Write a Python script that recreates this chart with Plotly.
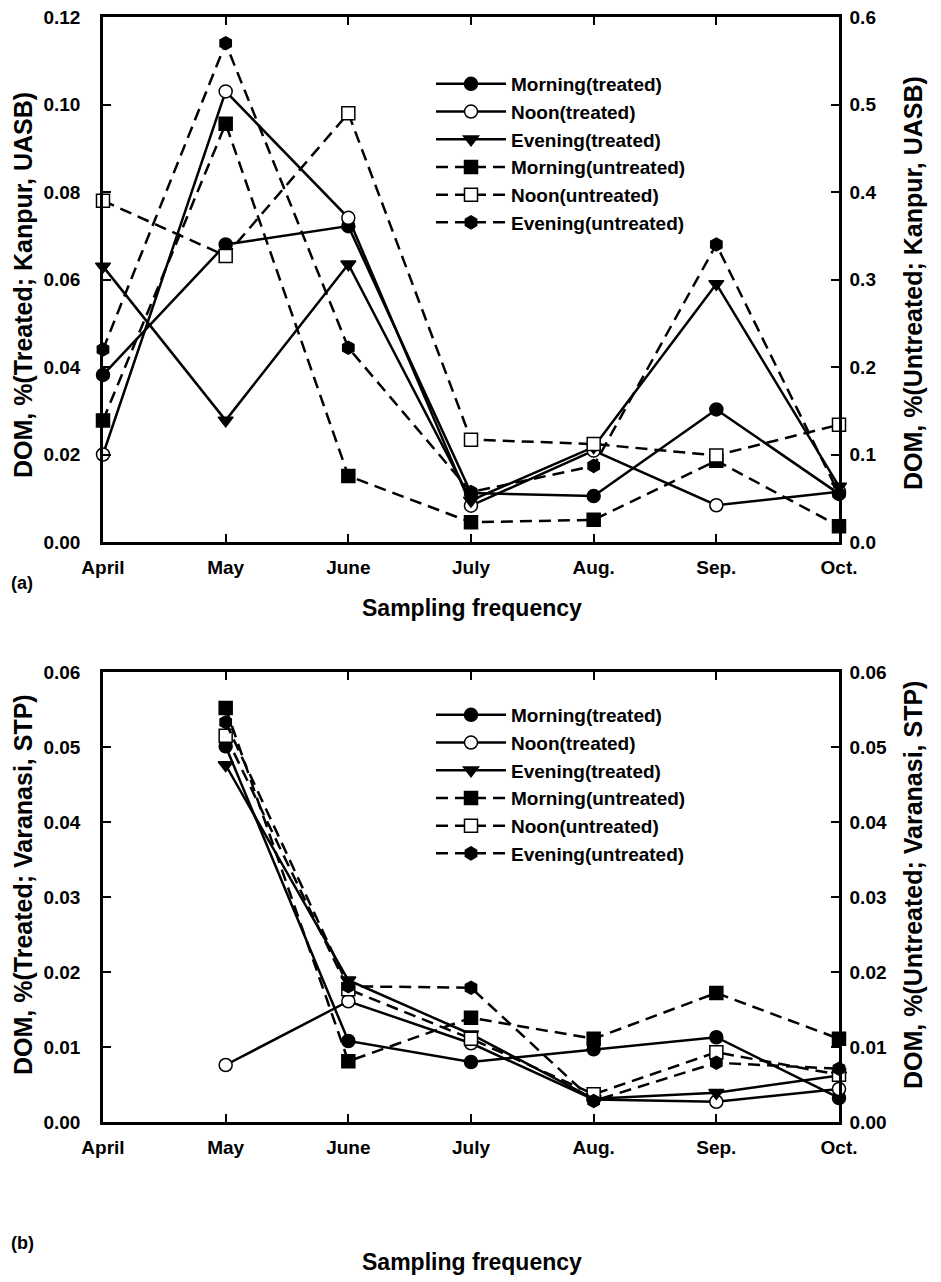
import plotly.graph_objects as go

months = ["April", "May", "June", "July", "Aug.", "Sep.", "Oct."]

# Panel (a): Kanpur, UASB  (treated -> left axis, untreated -> right axis)
a_morning_t = [0.0382, 0.0680, 0.0722, 0.0112, 0.0105, 0.0303, 0.0110]
a_noon_t = [0.0200, 0.1030, 0.0741, 0.0083, 0.0209, 0.0084, 0.0115]
a_evening_t = [0.0630, 0.0278, 0.0635, 0.0095, 0.0217, 0.0590, 0.0127]
a_morning_u = [0.139, 0.478, 0.0755, 0.0225, 0.0254, 0.093, 0.018]
a_noon_u = [0.390, 0.327, 0.490, 0.117, 0.112, 0.099, 0.134]
a_evening_u = [0.220, 0.570, 0.222, 0.057, 0.087, 0.340, 0.055]

# Panel (b): Varanasi, STP
b_morning_t = [None, 0.0501, 0.0108, 0.0080, 0.0097, 0.0113, 0.0032]
b_noon_t = [None, 0.0076, 0.0161, 0.0105, 0.0030, 0.0027, 0.0044]
b_evening_t = [None, 0.0476, 0.0189, 0.0117, 0.0031, 0.0039, 0.0062]
b_morning_u = [None, 0.0552, 0.0081, 0.0139, 0.0111, 0.0172, 0.0111]
b_noon_u = [None, 0.0515, 0.0177, 0.0111, 0.0037, 0.0093, 0.0063]
b_evening_u = [None, 0.0533, 0.0181, 0.0179, 0.0028, 0.0079, 0.0071]

names = ["Morning(treated)", "Noon(treated)", "Evening(treated)",
         "Morning(untreated)", "Noon(untreated)", "Evening(untreated)"]

a_ticks_left = [0.00, 0.02, 0.04, 0.06, 0.08, 0.10, 0.12]
a_ticks_right = [0.0, 0.1, 0.2, 0.3, 0.4, 0.5, 0.6]
b_ticks = [0.00, 0.01, 0.02, 0.03, 0.04, 0.05, 0.06]

xs = list(range(len(months)))

DASH = "12px,7px"
styles = [
    dict(symbol="circle", fill="black", dash="solid"),
    dict(symbol="circle", fill="white", dash="solid"),
    dict(symbol="triangle-down", fill="black", dash="solid"),
    dict(symbol="square", fill="black", dash=DASH),
    dict(symbol="square", fill="white", dash=DASH),
    dict(symbol="hexagon", fill="black", dash=DASH),
]

# page has an 8px body margin; figure sized to fit the 941x1282 window
OFF = 8
W, H = 941 - OFF, 1282 - OFF
FONT = "Liberation Sans, Arial, sans-serif"

def px(p):
    return (p - OFF) / W

def py(p):
    return 1 - (p - OFF) / H

fig = go.Figure()

a_series = [a_morning_t, a_noon_t, a_evening_t, a_morning_u, a_noon_u, a_evening_u]
b_series = [b_morning_t, b_noon_t, b_evening_t, b_morning_u, b_noon_u, b_evening_u]

def add(series, xa, ya_t, ya_u, leg):
    for i, (nm, ys, st) in enumerate(zip(names, series, styles)):
        fig.add_trace(go.Scatter(
            x=xs, y=ys, name=nm, mode="lines+markers",
            xaxis=xa, yaxis=ya_t if i < 3 else ya_u,
            line=dict(color="black", width=2.5, dash=st["dash"]),
            marker=dict(symbol=st["symbol"], size=13, color=st["fill"],
                        line=dict(color="black", width=1.5)),
            legend=leg, cliponaxis=False,
        ))

add(a_series, "x", "y", "y2", "legend")
add(b_series, "x2", "y3", "y4", "legend2")

x0, x1 = px(103), px(839)
a_dom = [py(542), py(17)]
b_dom = [py(1122), py(672)]

tickfont_y = dict(family=FONT, size=19, color="black", weight="bold")
tickfont_x = dict(family=FONT, size=19, color="black", weight="bold")

def xaxis(anchor):
    return dict(domain=[x0, x1], anchor=anchor, range=[0, 6], automargin=False,
                tickvals=xs, ticktext=months, ticks="inside", ticklen=8,
                tickwidth=1.5, tickcolor="black", showline=True, linewidth=2.5,
                linecolor="black", mirror="ticks", showgrid=False, zeroline=False,
                tickfont=tickfont_x, ticklabelstandoff=6, ticklabeloverflow="allow")

def yaxis(dom, rng, tv, fmt, side="left", overlay=None, anchor="x"):
    d = dict(domain=dom, range=rng, tickvals=tv, ticktext=[fmt.format(v) for v in tv],
             ticks="inside", ticklen=8, tickwidth=1.5, tickcolor="black",
             showline=True, linewidth=2.5, linecolor="black", showgrid=False,
             zeroline=False, tickfont=tickfont_y, side=side, anchor=anchor,
             automargin=False, ticklabeloverflow="allow",
             ticklabelstandoff=16 if side == "left" else 4)
    if overlay:
        d["overlaying"] = overlay
    return d

legfont = dict(family=FONT, size=19, color="black", weight="bold")
fig.update_layout(
    width=W, height=H,
    margin=dict(l=0, r=0, t=0, b=0, autoexpand=False),
    paper_bgcolor="white", plot_bgcolor="white",
    xaxis=xaxis("y"),
    yaxis=yaxis(a_dom, [0, 0.12], a_ticks_left, "{:.2f}"),
    yaxis2=yaxis(a_dom, [0, 0.6], a_ticks_right, "{:.1f}", side="right", overlay="y", anchor="x"),
    xaxis2=xaxis("y3"),
    yaxis3=yaxis(b_dom, [0, 0.06], b_ticks, "{:.2f}", anchor="x2"),
    yaxis4=yaxis(b_dom, [0, 0.06], b_ticks, "{:.2f}", side="right", overlay="y3", anchor="x2"),
    legend=dict(x=px(431), y=py(65), xanchor="left", yanchor="top",
                bgcolor="rgba(0,0,0,0)", itemwidth=70, tracegroupgap=0, font=legfont),
    legend2=dict(x=px(431), y=py(696), xanchor="left", yanchor="top",
                 bgcolor="rgba(0,0,0,0)", itemwidth=70, tracegroupgap=0, font=legfont),
    showlegend=True,
)

ann_font = dict(family=FONT, size=25, color="black", weight="bold")
xt_font = dict(family=FONT, size=23, color="black", weight="bold")
lab_font = dict(family=FONT, size=18, color="black", weight="bold")
annotations = [
    dict(text="DOM, %(Treated; Kanpur, UASB)", x=px(23), y=py(285), textangle=-90, font=ann_font),
    dict(text="DOM, %(Untreated; Kanpur, UASB)", x=px(913), y=py(283), textangle=-90, font=ann_font),
    dict(text="Sampling frequency", x=px(472), y=py(608), font=xt_font),
    dict(text="(a)", x=px(9), y=py(583), font=lab_font, xanchor="left"),
    dict(text="DOM, %(Treated; Varanasi, STP)", x=px(23), y=py(885), textangle=-90, font=ann_font),
    dict(text="DOM, %(Untreated; Varanasi, STP)", x=px(913), y=py(885), textangle=-90, font=ann_font),
    dict(text="Sampling frequency", x=px(472), y=py(1262), font=xt_font),
    dict(text="(b)", x=px(9), y=py(1243), font=lab_font, xanchor="left"),
]
for a in annotations:
    a.setdefault("xanchor", "center")
    a.update(xref="paper", yref="paper", showarrow=False, yanchor="middle")
fig.update_layout(annotations=annotations)

fig.write_html("out.html")
